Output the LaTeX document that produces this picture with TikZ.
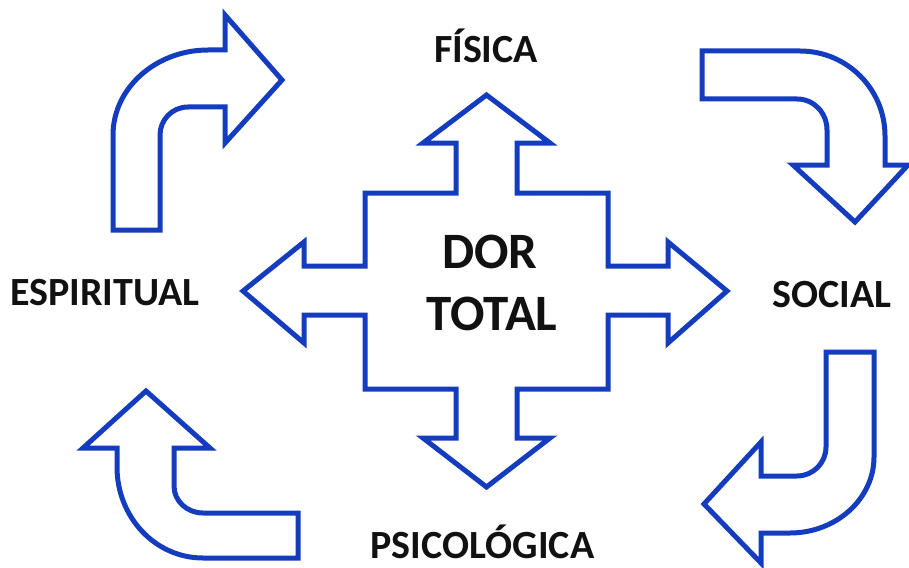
\documentclass[tikz,border=0pt]{standalone}
\usepackage{fontspec}
\setmainfont{Carlito}
\definecolor{arrowblue}{RGB}{20,60,190}
\definecolor{labelblack}{RGB}{17,17,17}
\tikzset{
  outline/.style={draw=arrowblue, line width=5pt, fill=white, line join=miter},
  lbl/.style={font=\bfseries\fontsize{40}{44}\selectfont, text=labelblack, inner sep=0pt},
  centerlbl/.style={font=\bfseries\fontsize{51}{62}\selectfont, text=labelblack, inner sep=0pt}
}
\begin{document}
\begin{tikzpicture}[x=1pt, y=-1pt]
\useasboundingbox (0,0) rectangle (909,567);
\fill[white] (0,0) rectangle (909,567);

% central four-way arrow
\draw[outline] (486.5,95) -- (550,143) -- (517,143) -- (517,193) -- (608,193) -- (608,266)
  -- (668,266) -- (668,242) -- (727,291) -- (668,343) -- (668,315) -- (608,315)
  -- (608,389) -- (517,389) -- (517,438) -- (550,438) -- (486.5,487) -- (423,438)
  -- (456,438) -- (456,389) -- (365,389) -- (365,315) -- (304,315) -- (304,343)
  -- (243,291) -- (304,242) -- (304,266) -- (365,266) -- (365,193) -- (456,193)
  -- (456,143) -- (423,143) -- cycle;

% top-left curved arrow
\draw[outline] (113,230) -- (113,135) .. controls (113,88) and (156,50) .. (208,50)
  -- (225,50) -- (225,15) -- (282,80) -- (225,143) -- (225,107) -- (188,107)
  .. controls (172,107) and (160,120) .. (160,135) -- (160,230) -- cycle;

% top-right curved arrow
\draw[outline] (702,51) -- (800,51) .. controls (847,51) and (885,89) .. (885,136)
  -- (885,165) -- (908,165) -- (855,222) -- (793,165) -- (827,165) -- (827,130)
  .. controls (827,113) and (814,99) .. (797,99) -- (702,99) -- cycle;

% bottom-right curved arrow
\draw[outline] (826,352) -- (874,352) -- (874,457) .. controls (874,499) and (836,533) .. (790,533)
  -- (761,533) -- (761,563) -- (704,504) -- (761,442) -- (761,476) -- (797,476)
  .. controls (813,476) and (826,463) .. (826,447) -- cycle;

% bottom-left curved arrow
\draw[outline] (146,391) -- (210,448) -- (174,448) -- (174,486)
  .. controls (174,501) and (187,513) .. (203,513) -- (298,513) -- (298,558) -- (203,558)
  .. controls (155,558) and (117,517) .. (117,467) -- (117,448) -- (83,448) -- cycle;

% labels
\node[lbl, anchor=base] (fisica) at (486,63) {FÍSICA};
\node[lbl, anchor=base] (social) at (832,307) {SOCIAL};
\node[lbl, anchor=base] (psico) at (482.5,558) {PSICOLÓGICA};
\node[lbl, anchor=base] (espiritual) at (105,305) {ESPIRITUAL};
\node[centerlbl, anchor=base] (dor) at (490,268) {DOR};
\node[centerlbl, anchor=base] (total) at (492,330) {TOTAL};
\end{tikzpicture}
\end{document}
